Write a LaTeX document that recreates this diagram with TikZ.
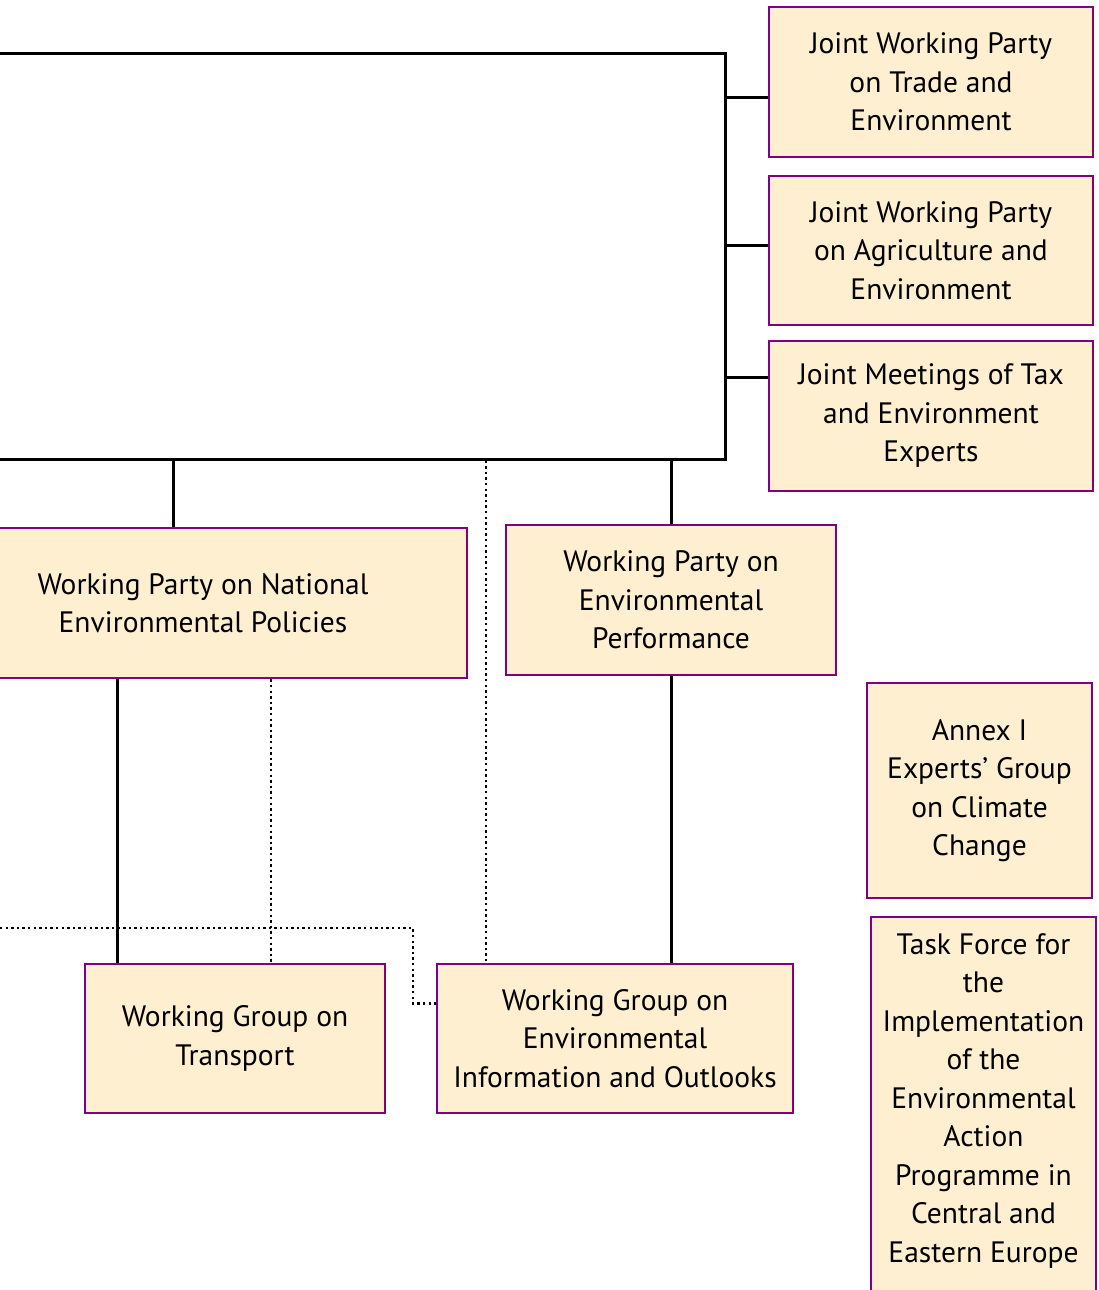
\documentclass[tikz,border=0pt]{standalone}
\usepackage{fontspec}
\setmainfont{PT Sans}
\usetikzlibrary{positioning,calc}

\definecolor{bodyfill}{RGB}{254,239,208}
\definecolor{bodyline}{RGB}{128,0,128}

\tikzset{
	body/.style={draw=bodyline, fill=bodyfill, line width=2.6pt, align=center,
		inner sep=0pt, font=\fontsize{29.5}{38.5}\selectfont},
	link/.style={line width=3pt},
	dotlink/.style={line width=2.6pt, dash pattern=on 2.4pt off 3.2pt}
}

\begin{document}
\begin{tikzpicture}[x=1pt, y=-1pt]

	\useasboundingbox (0,0) rectangle (1098,1290);

	% main committee frame (runs off the left edge)
	\node (epoc) [draw, link, inner sep=0pt, minimum width=825, minimum height=405] at (312.5,256.5) {};

	% joint bodies on the right
	\node (jwpte) [body, minimum width=324, minimum height=150] at (931,82)
		{Joint Working Party\\on Trade and\\Environment};
	\node (jwpae) [body, minimum width=324, minimum height=149] at (931,250.5)
		{Joint Working Party\\on Agriculture and\\Environment};
	\node (jmte) [body, minimum width=324, minimum height=150] at (931,416)
		{Joint Meetings of Tax\\and Environment\\Experts};

	% working parties
	\node (wpnep) [body, minimum width=528, minimum height=150] at (203,603)
		{Working Party on National\\Environmental Policies};
	\node (wpep) [body, minimum width=330, minimum height=150] at (671,600)
		{Working Party on\\Environmental\\Performance};

	% stand-alone groups
	\node (annex) [body, minimum width=225, minimum height=215] at (979.5,790.5)
		{Annex I\\Experts' Group\\on Climate\\Change};
	\fill[bodyfill] (871,1300) rectangle (1096,917);
	\draw[bodyline, line width=2.6pt] (871,1300) |- (1096,917) -- (1096,1300);
	\node (tfeap) [align=center, inner sep=0pt, font=\fontsize{29.5}{38.5}\selectfont] at (983.5,1101)
		{Task Force for\\the\\Implementation\\of the\\Environmental\\Action\\Programme in\\Central and\\Eastern Europe};

	% working groups
	\node (wgt) [body, minimum width=300, minimum height=149] at (235,1038.5)
		{Working Group on\\Transport};
	\node (wgeio) [body, minimum width=356, minimum height=149] at (615,1038.5)
		{Working Group on\\Environmental\\Information and Outlooks};

	% entry points
	\coordinate (ja) at ([yshift=-15pt]jwpte.west);
	\coordinate (jb) at ([yshift=5.5pt]jwpae.west);
	\coordinate (jc) at ([yshift=39pt]jmte.west);
	\coordinate (xa) at (173,0);
	\coordinate (xb) at (117,0);
	\coordinate (xc) at (271,0);
	\coordinate (xd) at (486,0);
	\coordinate (xe) at (413,0);
	\coordinate (lf) at (0,928);
	\coordinate (wgin) at ([yshift=35pt]wgeio.west);

	% solid links
	\draw[link] (epoc.east |- ja) -- (ja);
	\draw[link] (epoc.east |- jb) -- (jb);
	\draw[link] (epoc.east |- jc) -- (jc);
	\draw[link] (xa |- epoc.south) -- (xa |- wpnep.north);
	\draw[link] (epoc.south -| wpep.north) -- (wpep.north);
	\draw[link] (xb |- wpnep.south) -- (xb |- wgt.north);
	\draw[link] (wpep.south) -- (wpep.south |- wgeio.north);

	% dotted links
	\draw[dotlink] (xd |- epoc.south) -- (xd |- wgeio.north);
	\draw[dotlink] (xc |- wpnep.south) -- (xc |- wgt.north);
	\draw[dotlink] (lf) -| (xe |- wgin) -- (wgin);

\end{tikzpicture}
\end{document}
